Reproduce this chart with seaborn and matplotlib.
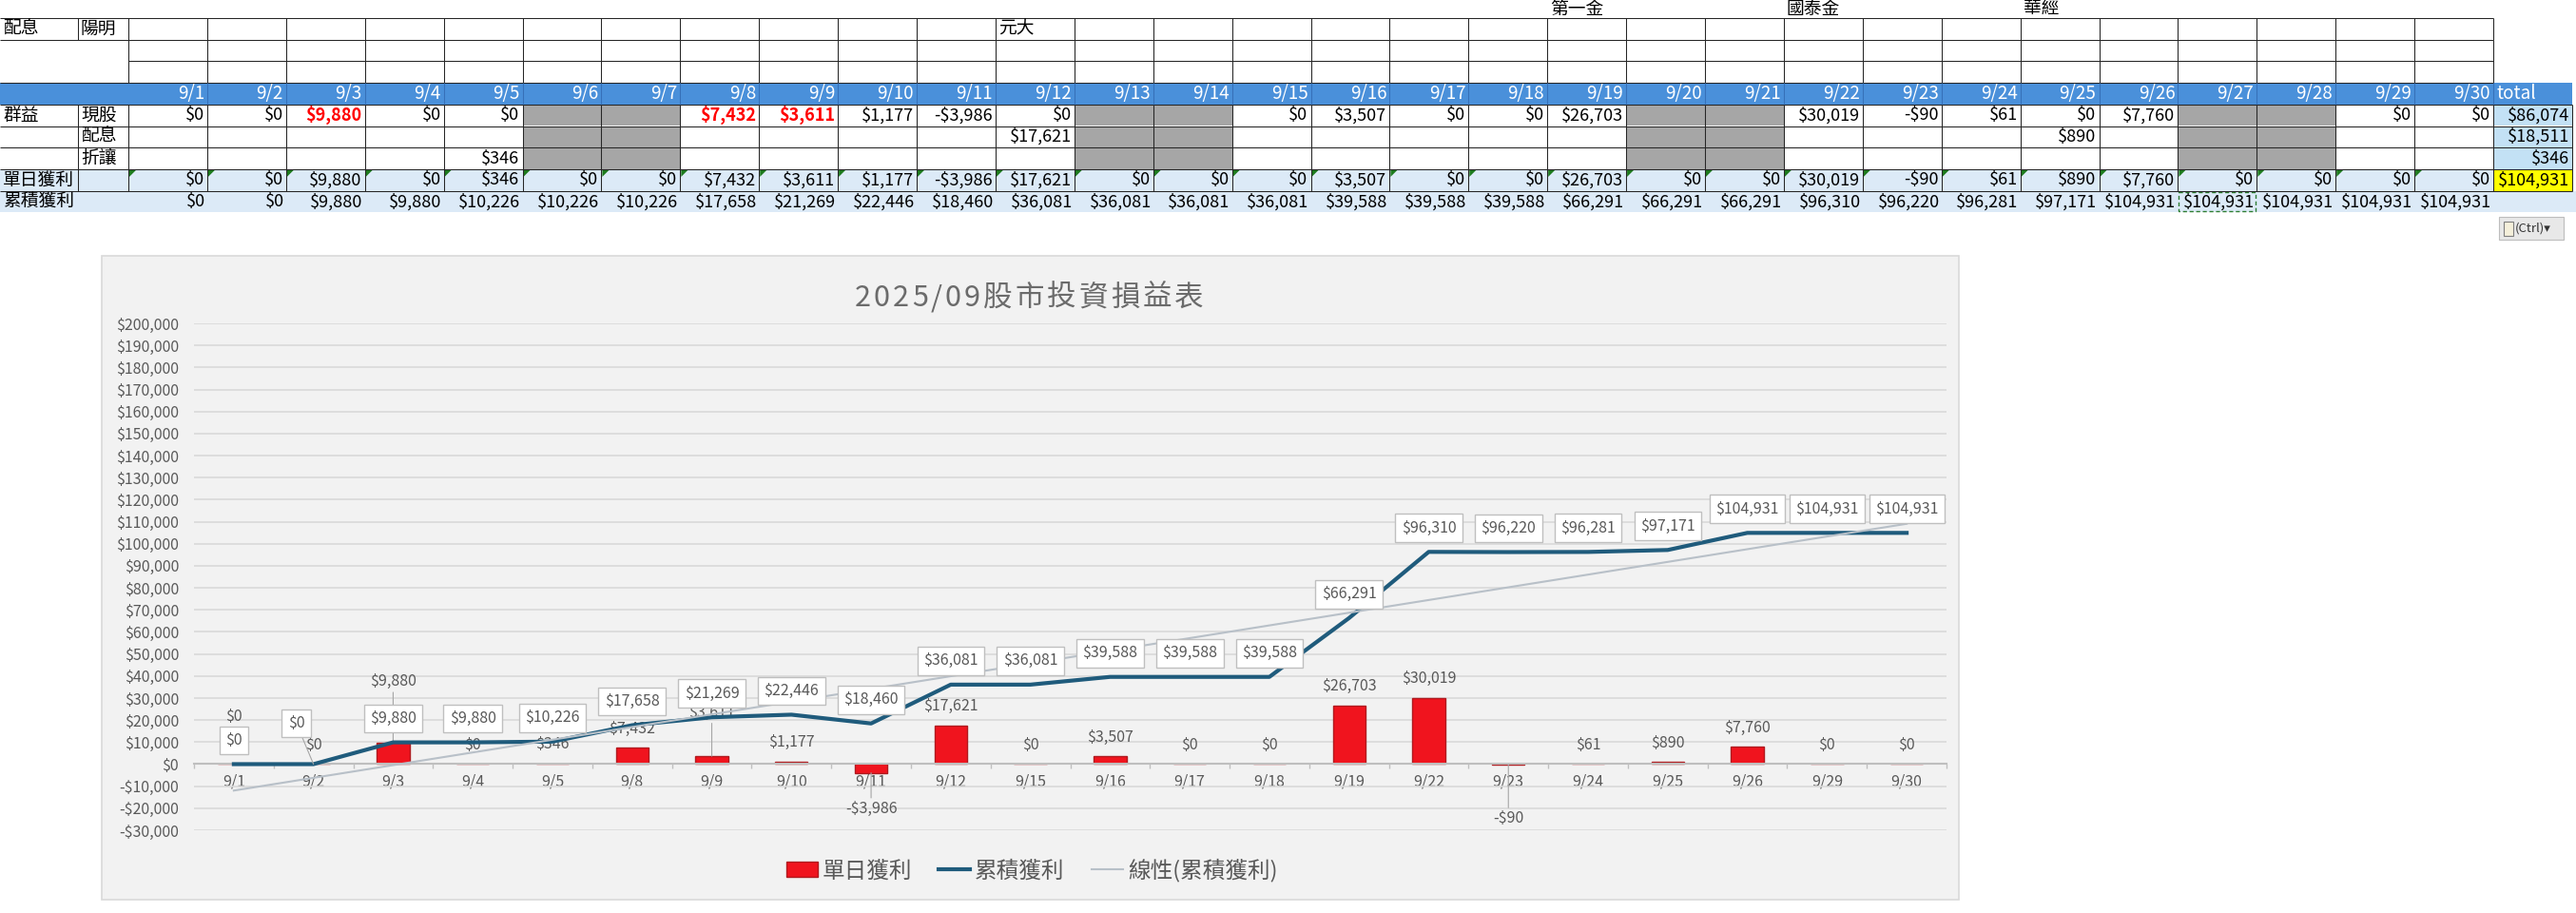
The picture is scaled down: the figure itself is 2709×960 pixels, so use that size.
import numpy as np
import pandas as pd
import matplotlib
matplotlib.use("Agg")
import matplotlib.pyplot as plt
import seaborn as sns
from matplotlib.patches import Rectangle, Polygon, Patch
from matplotlib.lines import Line2D
from matplotlib.ticker import FixedLocator, FuncFormatter

# ---------------- data: spreadsheet table ----------------
table_days = ["9/1", "9/2", "9/3", "9/4", "9/5", "9/6", "9/7", "9/8", "9/9", "9/10",
              "9/11", "9/12", "9/13", "9/14", "9/15", "9/16", "9/17", "9/18", "9/19", "9/20",
              "9/21", "9/22", "9/23", "9/24", "9/25", "9/26", "9/27", "9/28", "9/29", "9/30"]
weekend_days = ["9/6", "9/7", "9/13", "9/14", "9/20", "9/21", "9/27", "9/28"]
stock_row = [0, 0, 9880, 0, 0, None, None, 7432, 3611, 1177,
             -3986, 0, None, None, 0, 3507, 0, 0, 26703, None,
             None, 30019, -90, 61, 0, 7760, None, None, 0, 0]
dividend_row = [None, None, None, None, None, None, None, None, None, None,
                None, 17621, None, None, None, None, None, None, None, None,
                None, None, None, None, 890, None, None, None, None, None]
discount_row = [None, None, None, None, 346, None, None, None, None, None,
                None, None, None, None, None, None, None, None, None, None,
                None, None, None, None, None, None, None, None, None, None]
daily_row = [0, 0, 9880, 0, 346, 0, 0, 7432, 3611, 1177,
             -3986, 17621, 0, 0, 0, 3507, 0, 0, 26703, 0,
             0, 30019, -90, 61, 890, 7760, 0, 0, 0, 0]
cumulative_row = [0, 0, 9880, 9880, 10226, 10226, 10226, 17658, 21269, 22446,
                  18460, 36081, 36081, 36081, 36081, 39588, 39588, 39588, 66291, 66291,
                  66291, 96310, 96220, 96281, 97171, 104931, 104931, 104931, 104931, 104931]
stock_total = 86074
dividend_total = 18511
discount_total = 346
daily_total = 104931
red_cells = ["9/3", "9/8", "9/9"]
top_names = {"9/19": "第一金", "9/22": "國泰金", "9/25": "華經"}
row1_names = {"9/12": "元大"}

# ---------------- data: chart ----------------
chart_title = "2025/09股市投資損益表"
chart_dates = ["9/1", "9/2", "9/3", "9/4", "9/5", "9/8", "9/9", "9/10", "9/11", "9/12", "9/15",
               "9/16", "9/17", "9/18", "9/19", "9/22", "9/23", "9/24", "9/25", "9/26", "9/29", "9/30"]
chart_daily = [0, 0, 9880, 0, 346, 7432, 3611, 1177, -3986, 17621, 0,
               3507, 0, 0, 26703, 30019, -90, 61, 890, 7760, 0, 0]
chart_cumulative = [0, 0, 9880, 9880, 10226, 17658, 21269, 22446, 18460, 36081, 36081,
                    39588, 39588, 39588, 66291, 96310, 96220, 96281, 97171, 104931, 104931, 104931]
series_names = ["單日獲利", "累積獲利", "線性(累積獲利)"]
y_ticks = list(range(-30000, 200001, 10000))

# ---------------- style / layout ----------------
plt.rcParams["font.family"] = ["Noto Sans CJK TC", "DejaVu Sans"]
plt.rcParams["text.parse_math"] = False

W, H = 2709, 960
HEADER_BLUE = "#4A90DA"
ROW_BLUE = "#DCEAF7"
TOTAL_BLUE = "#C3E1F5"
GRAY_CELL = "#A6A6A6"
INK = "#262626"
BAR = "#F0141E"
BAR_EDGE = "#B01A1F"
LINE = "#1F5B7C"
TREND = "#B8C0C8"
TXT = "#595959"
AXC = "#BFBFBF"


def money(v):
    return f"-${abs(v):,.0f}" if v < 0 else f"${v:,.0f}"


fig = plt.figure(figsize=(W / 100, H / 100), dpi=100, facecolor="white")

# ====== spreadsheet layer (pixel coordinates) ======
axT = fig.add_axes([0, 0, 1, 1], zorder=0)
axT.set_xlim(0, W)
axT.set_ylim(H, 0)
axT.axis("off")

ROW_TOP, ROW_H = 19.0, 22.7
COL_B_X = 82.0
DATE_X0, DATE_W = 135.0, 82.9
n_days = len(table_days)
date_edges = DATE_X0 + DATE_W * np.arange(n_days + 1)
TOT_L, TOT_R = date_edges[-1], date_edges[-1] + 83
row_edges = ROW_TOP + ROW_H * np.arange(10)
LW = 0.75
FS = 13
FS_CJK = 13.5


def rmid(k):
    return row_edges[k] + ROW_H / 2


# fills
axT.add_patch(Rectangle((0, row_edges[3]), TOT_R, ROW_H, fc=HEADER_BLUE, ec="none"))
for j, d in enumerate(table_days):
    if d in weekend_days:
        for k in (4, 5, 6):
            axT.add_patch(Rectangle((date_edges[j], row_edges[k]), DATE_W, ROW_H, fc=GRAY_CELL, ec="none"))
for k in (4, 5, 6):
    axT.add_patch(Rectangle((TOT_L, row_edges[k]), TOT_R - TOT_L, ROW_H, fc=TOTAL_BLUE, ec="none"))
axT.add_patch(Rectangle((0, row_edges[7]), TOT_L, ROW_H, fc=ROW_BLUE, ec="none"))
axT.add_patch(Rectangle((TOT_L, row_edges[7]), TOT_R - TOT_L, ROW_H, fc="#FFFF00", ec="none"))
axT.add_patch(Rectangle((0, row_edges[8]), W, ROW_H, fc=ROW_BLUE, ec="none"))

# grid lines
axT.hlines([row_edges[0], row_edges[1]], 0, TOT_L, colors=INK, lw=LW)
axT.hlines([row_edges[2]], DATE_X0, TOT_L, colors=INK, lw=LW)
axT.hlines([row_edges[3]], 0, TOT_L, colors=INK, lw=LW)
axT.hlines(row_edges[4:9], 0, TOT_R, colors=INK, lw=LW)
axT.vlines([COL_B_X] + list(date_edges), row_edges[0], row_edges[1], colors=INK, lw=LW)
axT.vlines(date_edges, row_edges[1], row_edges[3], colors=INK, lw=LW)
axT.vlines(date_edges[1:], row_edges[3], row_edges[4], colors="#3670B8", lw=LW)
axT.vlines([COL_B_X] + list(date_edges) + [TOT_R], row_edges[4], row_edges[8], colors=INK, lw=LW)


def ctext(x, y, s, ha, color="#000000", weight="normal", size=FS):
    axT.text(x, y, s, ha=ha, va="center", fontsize=size, color=color, fontweight=weight)


# labels
ctext(3, rmid(0), "配息", "left", size=FS_CJK)
ctext(COL_B_X + 3, rmid(0), "陽明", "left", size=FS_CJK)
for j, d in enumerate(table_days):
    if d in row1_names:
        ctext(date_edges[j] + 3, rmid(0), row1_names[d], "left", size=FS_CJK)
    if d in top_names:
        ctext(date_edges[j] + 3, 9.5, top_names[d], "left", size=FS_CJK)
    ctext(date_edges[j + 1] - 3, rmid(3), d, "right", color="white", size=13.5)
ctext(TOT_L + 3, rmid(3), "total", "left", color="white", size=13.5)

ctext(3, rmid(4), "群益", "left", size=FS_CJK)
ctext(COL_B_X + 3, rmid(4), "現股", "left", size=FS_CJK)
ctext(COL_B_X + 3, rmid(5), "配息", "left", size=FS_CJK)
ctext(COL_B_X + 3, rmid(6), "折讓", "left", size=FS_CJK)
ctext(3, rmid(7), "單日獲利", "left", size=FS_CJK)
ctext(3, rmid(8), "累積獲利", "left", size=FS_CJK)

for j, d in enumerate(table_days):
    xr = date_edges[j + 1] - 3
    if stock_row[j] is not None:
        red = d in red_cells
        ctext(xr, rmid(4), money(stock_row[j]), "right",
              color="#FF0000" if red else "#000000", weight="bold" if red else "normal")
    if dividend_row[j] is not None:
        ctext(xr, rmid(5), money(dividend_row[j]), "right")
    if discount_row[j] is not None:
        ctext(xr, rmid(6), money(discount_row[j]), "right")
    ctext(xr, rmid(7), money(daily_row[j]), "right")
    ctext(xr + 1, rmid(8), money(cumulative_row[j]), "right")
    x0, y0 = date_edges[j], row_edges[7]
    axT.add_patch(Polygon([(x0 + 1, y0 + 1), (x0 + 8, y0 + 1), (x0 + 1, y0 + 8)],
                          closed=True, fc="#1E7B1E", ec="none"))

ctext(TOT_R - 3, rmid(4), money(stock_total), "right")
ctext(TOT_R - 3, rmid(5), money(dividend_total), "right")
ctext(TOT_R - 3, rmid(6), money(discount_total), "right")
ctext(TOT_R - 3, rmid(7), money(daily_total), "right")

# copy marquee around 9/27 cumulative cell
jm = table_days.index("9/27")
axT.add_patch(Rectangle((date_edges[jm] + 1, row_edges[8] + 1), DATE_W - 2, ROW_H - 2,
                        fill=False, ec="#2E7D32", lw=1, ls=(0, (3, 2))))

# paste-options button
axT.add_patch(Rectangle((2628, 228), 68, 24, fc="#E8E8E8", ec="#BDBDBD", lw=0.8))
axT.add_patch(Rectangle((2633, 233), 10, 15, fc="#F4EFDA", ec="#7F7F7F", lw=0.8))
axT.text(2645, 240.5, "(Ctrl)▾", ha="left", va="center", fontsize=9.5, color="#333333")

# chart area background
axT.add_patch(Rectangle((107, 269), 1953, 677, fc="#F2F2F2", ec="#D9D9D9", lw=1.2))

# ====== chart ======
ax = fig.add_axes([204 / W, 1 - 873 / H, (2047 - 204) / W, (873 - 340) / H], zorder=2)
ax.set_facecolor("none")
df = pd.DataFrame({"date": chart_dates, "daily": chart_daily, "cumulative": chart_cumulative})
xpos = np.arange(len(chart_dates))

sns.barplot(data=df, x="date", y="daily", ax=ax, color=BAR, saturation=1, width=0.41,
            edgecolor=BAR_EDGE, linewidth=1, errorbar=None, zorder=2)
sns.lineplot(x=xpos, y=df["cumulative"].to_numpy(), ax=ax, color=LINE, linewidth=3, zorder=3)
coef = np.polyfit(xpos + 1, df["cumulative"].to_numpy(), 1)
ax.plot(xpos, np.polyval(coef, xpos + 1), color=TREND, lw=1.5, zorder=3.5)

ax.set_xlim(-0.5, len(xpos) - 0.5)
ax.set_ylim(y_ticks[0], y_ticks[-1])
ax.yaxis.set_major_locator(FixedLocator(y_ticks))
ax.yaxis.set_major_formatter(FuncFormatter(lambda v, p: money(v)))
ax.set_xticks(xpos)
ax.set_xticklabels(chart_dates)
ax.set_xticks(np.arange(-0.5, len(xpos), 1.0), minor=True)
ax.tick_params(axis="x", which="major", length=0, pad=7, labelsize=11.5, labelcolor=TXT)
ax.tick_params(axis="x", which="minor", length=3.6, width=1, color=AXC, direction="out")
ax.tick_params(axis="y", length=0, pad=11.5, labelsize=11.5, labelcolor=TXT)
for s in ("top", "right", "left"):
    ax.spines[s].set_visible(False)
ax.spines["bottom"].set_position(("data", 0))
ax.spines["bottom"].set_color(AXC)
ax.spines["bottom"].set_linewidth(1.5)
ax.grid(axis="y", color="#D9D9D9", lw=1.2)
ax.grid(axis="x", visible=False)
ax.set_axisbelow(True)
ax.set_xlabel("")
ax.set_ylabel("")

# data labels (layout overrides, in points)
bar_label_offsets = {"9/1": (0, 36), "9/3": (0, 46), "9/9": (0, 33), "9/11": (0, -27), "9/23": (0, -41)}
bar_label_leaders = ["9/3", "9/9", "9/11", "9/23"]
cum_label_offsets = {"9/2": (-13, 31)}
cum_label_leaders = ["9/2"]
leader = dict(arrowstyle="-", color="#A6A6A6", lw=0.8, shrinkA=0, shrinkB=0)

for i, (d, v) in enumerate(zip(chart_dates, chart_daily)):
    off = bar_label_offsets.get(d, (0, 14.4 if v >= 0 else -14.4))
    ax.annotate(money(v), xy=(i, v), xytext=off, textcoords="offset points",
                ha="center", va="center", fontsize=11.5, color=TXT, zorder=2.5,
                arrowprops=leader if d in bar_label_leaders else None)

for i, (d, v) in enumerate(zip(chart_dates, chart_cumulative)):
    off = cum_label_offsets.get(d, (0, 18))
    ax.annotate(money(v), xy=(i, v), xytext=off, textcoords="offset points",
                ha="center", va="center", fontsize=11.5, color=TXT, zorder=6,
                bbox=dict(boxstyle="square,pad=0.4", fc="white", ec="#BFBFBF", lw=1),
                arrowprops=leader if d in cum_label_leaders else None)

# legend
handles = [Patch(fc=BAR, ec=BAR_EDGE, lw=1),
           Line2D([], [], color=LINE, lw=3),
           Line2D([], [], color=TREND, lw=1.5)]
fig.legend(handles, series_names, loc="center", bbox_to_anchor=(1085 / W, 1 - 915 / H),
           bbox_transform=fig.transFigure, ncol=3, frameon=False, fontsize=17,
           handlelength=1.4, handleheight=0.7, handletextpad=0.2, columnspacing=1.2,
           labelcolor=TXT)

# title with Excel-like letter spacing
renderer = fig.canvas.get_renderer()
title_objs = [fig.text(0, 1 - 322 / H, ch, fontsize=22, color="#6B6B6B", ha="left", va="baseline")
              for ch in chart_title]
widths = [t.get_window_extent(renderer=renderer).width for t in title_objs]
gap = 3
xcur = 1082 - (sum(widths) + gap * (len(widths) - 1)) / 2
for t, w in zip(title_objs, widths):
    t.set_x(xcur / W)
    xcur += w + gap

fig.savefig("out.png", dpi=100, facecolor="white")
